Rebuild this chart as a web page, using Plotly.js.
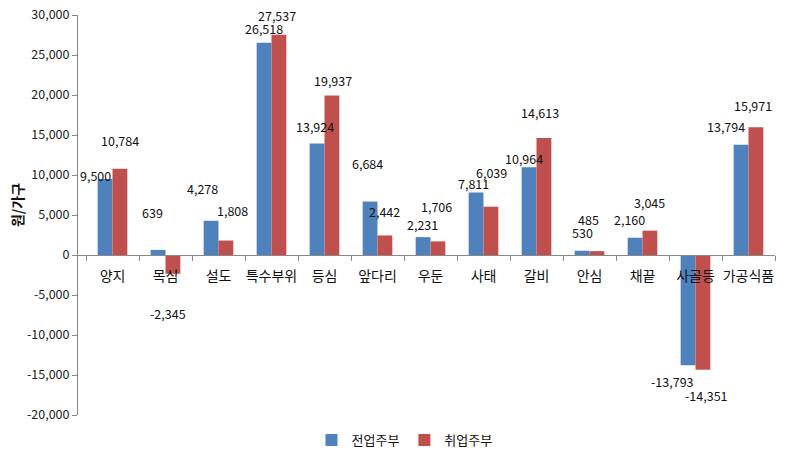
<!DOCTYPE html>
<html><head><meta charset="utf-8">
<script src="https://cdn.plot.ly/plotly-3.0.1.min.js"></script>
<style>html,body{margin:0;padding:0;background:#fff}#chart{width:791px;height:461px}</style>
</head><body><div id="chart"></div>
<script>
const categories = ['양지','목심','설도','특수부위','등심','앞다리','우둔','사태','갈비','안심','채끝','사골등','가공식품'];
const fulltimeHousewife = [9500, 639, 4278, 26518, 13924, 6684, 2231, 7811, 10964, 530, 2160, -13793, 13794];
const workingHousewife = [10784, -2345, 1808, 27537, 19937, 2442, 1706, 6039, 14613, 485, 3045, -14351, 15971];
const seriesNames = ['전업주부','취업주부'];
const yTicks = [-20000,-15000,-10000,-5000,0,5000,10000,15000,20000,25000,30000];
const yTitle = '원/가구';

// label placement offsets (px) mimicking the hand-placed labels of the original
const blueDx = [-17,-13,-16,-8,-10,-10,-8,-10,-13,-7,-13,-23,-23];
const blueDy = [4,37,32,14,17,38,13,9,9,18,18,-16,18];
const redDx = [7,2,14,5,8,7,6,8,3,-1,7,11,4];
const redDy = [28,-40,30,19,15,24,35,34,26,32,28,-26,22];

const fmt = v => v.toLocaleString('en-US');
const FONT = '"Noto Sans CJK KR", "Noto Sans", sans-serif';

const traces = [
  {type:'bar', name:seriesNames[0], x:categories, y:fulltimeHousewife, marker:{color:'#4F81BD'}, hoverinfo:'none'},
  {type:'bar', name:seriesNames[1], x:categories, y:workingHousewife, marker:{color:'#C0504D'}, hoverinfo:'none'}
];

const annotations = [];
categories.forEach((c,i)=>{
  annotations.push({x:c, y:fulltimeHousewife[i], text:fmt(fulltimeHousewife[i]), showarrow:false,
    xshift:blueDx[i], yshift:blueDy[i], font:{size:12.5, color:'#111', family:FONT}});
  annotations.push({x:c, y:workingHousewife[i], text:fmt(workingHousewife[i]), showarrow:false,
    xshift:redDx[i], yshift:redDy[i], font:{size:12.5, color:'#111', family:FONT}});
});
annotations.push({xref:'paper', yref:'paper', x:-0.0875, y:0.525, xanchor:'center', yanchor:'middle',
  text:'<b>'+yTitle+'</b>', textangle:-90,
  showarrow:false, font:{size:14, family:FONT, color:'#111'}});

const yMin = -20000, yMax = 30000;
const layout = {
  width:791, height:461,
  margin:{l:78, r:16, t:15, b:46, pad:0, autoexpand:false},
  paper_bgcolor:'#fff', plot_bgcolor:'#fff',
  font:{family:FONT, color:'#222'},
  barmode:'group', bargap:0.44, bargroupgap:0,
  showlegend:true,
  legend:{orientation:'h', x:0.335, xanchor:'left', y:-0.0625, yanchor:'middle',
    font:{size:13, family:FONT, color:'#111'}, itemwidth:30, tracegroupgap:0, traceorder:'normal'},
  xaxis:{type:'category', anchor:'free', position:(0-yMin)/(yMax-yMin), automargin:false,
    showline:true, linecolor:'#888', linewidth:1, ticks:'outside', tickson:'boundaries',
    ticklen:5, tickcolor:'#888', showgrid:false, zeroline:false, tickangle:0, ticklabelstandoff:8,
    tickfont:{size:14, family:FONT, color:'#111'}, fixedrange:true},
  yaxis:{range:[yMin,yMax], tickvals:yTicks, ticktext:yTicks.map(fmt), automargin:false,
    showline:true, linecolor:'#888', linewidth:1, ticks:'outside', ticklen:5, tickcolor:'#888',
    showgrid:false, zeroline:false, tickfont:{size:12.5, family:FONT, color:'#222'}},
  annotations:annotations
};
Plotly.newPlot('chart', traces, layout, {staticPlot:true, displayModeBar:false});
</script></body></html>
